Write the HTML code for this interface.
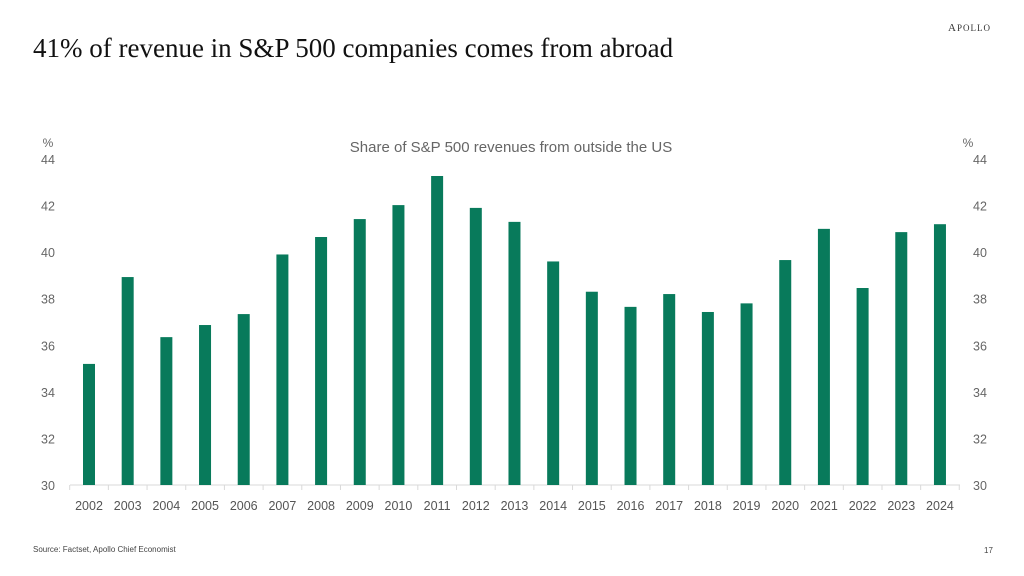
<!DOCTYPE html>
<html><head><meta charset="utf-8"><style>
body{margin:0;width:1024px;height:576px;background:#fff;overflow:hidden;position:relative;font-family:"Liberation Sans",sans-serif}
.t{position:absolute}
</style></head><body>
<div class="t" style="left:33px;top:33px;font-family:'Liberation Serif',serif;font-size:27px;color:#111">41% of revenue in S&amp;P 500 companies comes from abroad</div>
<div class="t" style="left:948px;top:22px;font-family:'Liberation Serif',serif;font-size:11px;letter-spacing:1px;color:#333">A<span style="font-size:9px">POLLO</span></div>
<div class="t" style="left:33px;top:545px;font-size:8px;color:#444">Source: Factset, Apollo Chief Economist</div>
<div class="t" style="left:984px;top:546px;font-size:8px;color:#444">17</div>
<svg id="c" width="1024" height="576" style="position:absolute;left:0;top:0"></svg>
<script>
const years=["2002","2003","2004","2005","2006","2007","2008","2009","2010","2011","2012","2013","2014","2015","2016","2017","2018","2019","2020","2021","2022","2023","2024"];
const values=[35.2,38.93,36.35,36.87,37.34,39.9,40.65,41.42,42.02,43.27,41.9,41.3,39.6,38.3,37.65,38.2,37.43,37.8,39.66,41.0,38.46,40.86,41.2];
const yTicks=[30,32,34,36,38,40,42,44];
const NS="http://www.w3.org/2000/svg",svg=document.getElementById('c');
const y=v=>485-(v-30)*(326/14);
const x=i=>89+i*38.68;
function mk(t,a,txt){const e=document.createElementNS(NS,t);for(const k in a)e.setAttribute(k,a[k]);if(txt!=null)e.textContent=txt;svg.appendChild(e);return e;}
const title=mk('text',{x:511,y:152,'text-anchor':'middle','font-size':15,fill:'#666','font-family':'Liberation Sans'},'Share of S&P 500 revenues from outside the US');


[[48,'left'],[968,'right']].forEach(([px,s])=>{
 const p=mk('text',{x:px,y:147,'text-anchor':'middle','font-size':12,fill:'#666'},'%');
 
 
});
yTicks.forEach(v=>{
 const l=mk('text',{x:48,y:y(v)+5,'text-anchor':'middle','font-size':12.5,fill:'#666'},v);
 
 
 const r=mk('text',{x:980,y:y(v)+5,'text-anchor':'middle','font-size':12.5,fill:'#666'},v);
 
 
});
const ax=mk('line',{x1:70,x2:960,y1:485,y2:485,stroke:'#d9d9d9','stroke-width':1});


years.forEach((yr,i)=>{
 const tk=mk('line',{x1:x(i)-19.3,x2:x(i)-19.3,y1:485,y2:490,stroke:'#d9d9d9'});
 
 
 const b=mk('rect',{x:x(i)-6,y:y(values[i]),width:12,height:485-y(values[i]),fill:'#087a5b'});
 
 
 const t=mk('text',{x:x(i),y:510,'text-anchor':'middle','font-size':12.5,fill:'#555'},yr);
 
 
});
const tk=mk('line',{x1:x(22)+19.3,x2:x(22)+19.3,y1:485,y2:490,stroke:'#d9d9d9'});


</script>
</body></html>
